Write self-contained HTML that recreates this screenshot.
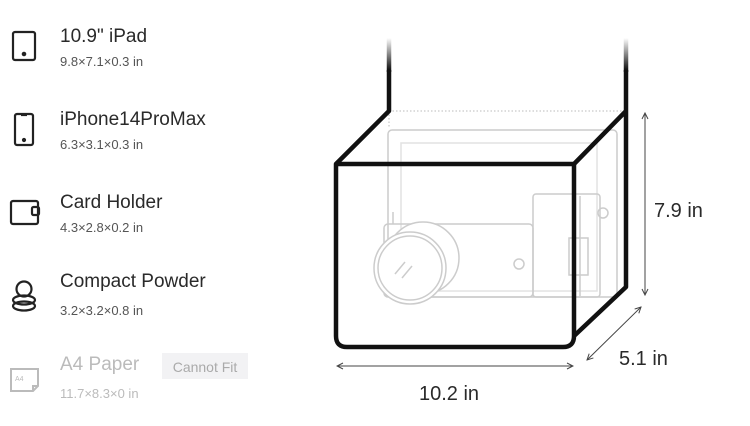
<!DOCTYPE html>
<html><head><style>
body{margin:0;width:750px;height:426px;background:#fff;overflow:hidden;font-family:"Liberation Sans",sans-serif;position:relative}
.t{position:absolute;left:60px;font-size:19px;color:#2a2a2a}
.s{position:absolute;left:60px;font-size:13px;color:#555}
</style></head><body>
<div class="t" style="top:26px">10.9" iPad</div><div class="s" style="top:54px">9.8×7.1×0.3 in</div>
<div class="t" style="top:109px">iPhone14ProMax</div><div class="s" style="top:137px">6.3×3.1×0.3 in</div>
<div class="t" style="top:192px">Card Holder</div><div class="s" style="top:220px">4.3×2.8×0.2 in</div>
<div class="t" style="top:271px">Compact Powder</div><div class="s" style="top:303px">3.2×3.2×0.8 in</div>
<div class="t" style="top:354px;color:#bbb">A4 Paper</div>
<div style="position:absolute;left:162px;top:353px;width:86px;height:26px;background:#f2f2f4;color:#aaa;font-size:14px;line-height:28px;text-align:center">Cannot Fit</div>
<div class="s" style="top:386px;color:#bbb">11.7×8.3×0 in</div>
<svg width="750" height="426" style="position:absolute;left:0;top:0">
<defs><linearGradient id="g" gradientUnits="userSpaceOnUse" x1="0" y1="38" x2="0" y2="70"><stop offset="0" stop-color="#111" stop-opacity="0"/><stop offset="1" stop-color="#111"/></linearGradient>
<marker id="a" markerWidth="8" markerHeight="8" refX="7" refY="4" orient="auto-start-reverse"><path d="M1,1 L7,4 L1,7" fill="none" stroke="#444" stroke-width="1"/></marker></defs>
<g fill="none" stroke="#222" stroke-width="2.2">
<rect x="13" y="32" width="22" height="28" rx="2"/><circle cx="24" cy="54" r="1.2" fill="#222"/>
<rect x="15" y="114" width="18" height="31" rx="2"/><circle cx="24" cy="140" r="1" fill="#222"/><path d="M21,115 h6"/>
<rect x="11" y="201" width="27" height="23" rx="2"/><rect x="32" y="207" width="7" height="8" rx="1.5"/>
<circle cx="24" cy="289" r="7.5"/><ellipse cx="24" cy="300" rx="11" ry="4.5"/><ellipse cx="24" cy="306" rx="11" ry="4.5"/>
</g>
<g fill="none" stroke="#bbb" stroke-width="2"><path d="M11,369 h27 v17 l-5,5 h-22z M33,391 v-5 h5"/></g>
<text x="15" y="381" font-size="7" fill="#bbb" font-family="Liberation Sans">A4</text>
<g fill="none" stroke="#ccc" stroke-width="1.5">
<rect x="388" y="130" width="229" height="167" rx="4"/>
<rect x="401" y="143" width="196" height="148" stroke="#e2e2e2"/>
<rect x="384" y="224" width="149" height="73" rx="4"/>
<circle cx="519" cy="264" r="5"/>
<rect x="533" y="194" width="67" height="103" rx="3"/>
<path d="M580,196 v100 M569,238 h19 v37 h-19z"/>
<circle cx="603" cy="213" r="5"/>
<path d="M393,212 v12"/>
<circle cx="423" cy="258" r="36" fill="#fff"/>
<circle cx="410" cy="268" r="36" fill="#fff"/><circle cx="410" cy="268" r="32"/>
<path d="M405,262 l-10,12 M412,266 l-10,12"/>
</g>
<path d="M389,111 H626 M389,111 V128" stroke="#bbb" stroke-width="1" stroke-dasharray="1.5,2"/>
<path d="M389,38 V72 M626,38 V72" stroke="url(#g)" stroke-width="4.5"/>
<g fill="none" stroke="#111" stroke-width="4.5" stroke-linejoin="round">
<path d="M389,70 V111 L336,164 M626,70 V111 L574,164 M626,111 V287 L574,336"/>
<path d="M336,164 H574 V336 Q574,347 563,347 H347 Q336,347 336,336 Z"/>
</g>
<g stroke="#444" stroke-width="1" marker-start="url(#a)" marker-end="url(#a)">
<line x1="645" y1="113" x2="645" y2="295"/>
<line x1="587" y1="360" x2="641" y2="307"/>
<line x1="337" y1="366" x2="573" y2="366"/>
</g>
<g font-family="Liberation Sans" font-size="20" fill="#2a2a2a">
<text x="654" y="217">7.9 in</text>
<text x="619" y="365">5.1 in</text>
<text x="419" y="400">10.2 in</text>
</g>
</svg>
</body></html>
